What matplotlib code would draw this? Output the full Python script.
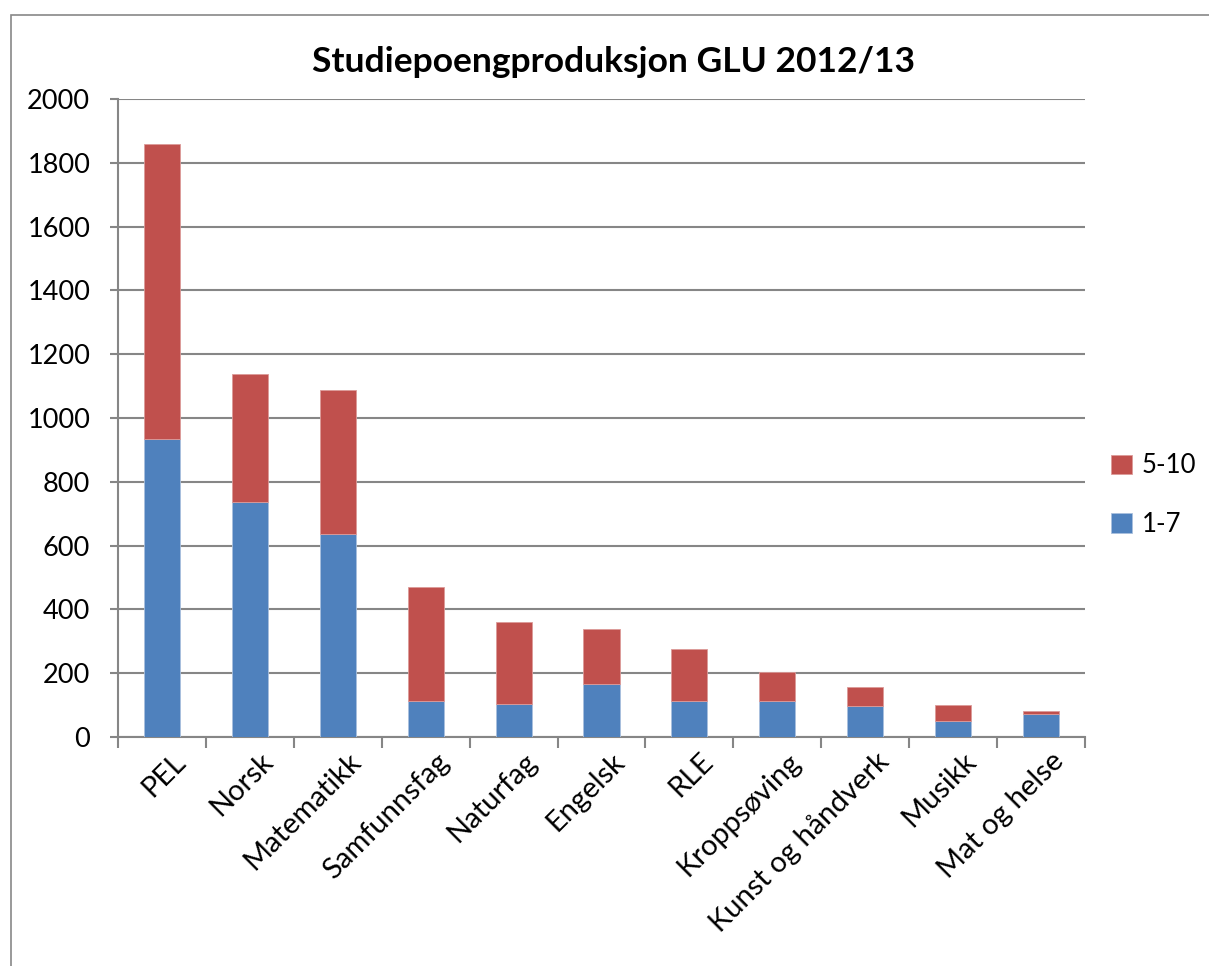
import numpy as np
import matplotlib
matplotlib.use('Agg')
import matplotlib.pyplot as plt
from matplotlib.patches import Rectangle
from matplotlib.transforms import ScaledTranslation

# data
fag = ['PEL', 'Norsk', 'Matematikk', 'Samfunnsfag', 'Naturfag', 'Engelsk', 'RLE',
       'Kroppsøving', 'Kunst og håndverk', 'Musikk', 'Mat og helse']
trinn_1_7 = [933, 737, 635, 112, 105, 165, 114, 114, 98, 49, 71]
trinn_5_10 = [925, 400, 452, 358, 254, 175, 161, 90, 59, 52, 11]

plt.rcParams['font.family'] = ['Lato', 'DejaVu Sans']

fig = plt.figure(figsize=(12.09, 9.66), dpi=100)
# chart area border
fig.patches.append(Rectangle((11/1209, -0.1), 1.2, 1 - 15/966 + 0.1, transform=fig.transFigure,
                             fill=False, edgecolor='#888888', linewidth=1.2))

ax = fig.add_axes([118/1209, 1 - 737/966, (1085-118)/1209, (737-99)/966])
x = np.arange(len(fag))
blue = '#4f81bd'
red = '#c0504d'
ax.bar(x, trinn_1_7, width=0.41, color=blue, label='1-7', zorder=3,
       edgecolor='#a9c0de', linewidth=0.6)
ax.bar(x, trinn_5_10, width=0.41, bottom=trinn_1_7, color=red, label='5-10', zorder=3,
       edgecolor='#dc9a98', linewidth=0.6)

ax.set_xlim(-0.5, len(fag) - 0.5)
ax.set_ylim(0, 2000)
ax.set_yticks(range(0, 2001, 200))
ax.tick_params(axis='y', labelsize=19.5, length=6, width=1.5, color='#868686', pad=14)
ax.yaxis.grid(True, color='#868686', linewidth=1.5)
ax.set_axisbelow(True)

ax.set_xticks(x)
ax.set_xticklabels(fag, rotation=45, ha='right', rotation_mode='anchor', fontsize=21)
ax.set_xticks(np.arange(-0.5, len(fag), 1), minor=True)
ax.tick_params(axis='x', which='major', length=0, pad=8)
ax.tick_params(axis='x', which='minor', length=8, width=1.5, color='#868686')
for lab in ax.get_xticklabels():
    lab.set_transform(lab.get_transform() + ScaledTranslation(0.1, 0, fig.dpi_scale_trans))

for s in ['top', 'right']:
    ax.spines[s].set_visible(False)
for s in ['left', 'bottom']:
    ax.spines[s].set_color('#868686')
    ax.spines[s].set_linewidth(1.5)

fig.text(614/1209, 1 - 62/966, 'Studiepoengproduksjon GLU 2012/13', ha='center', va='center',
         fontsize=25.5, fontweight='bold')

h, l = ax.get_legend_handles_labels()
fig.legend(h[::-1], l[::-1], loc='center left', bbox_to_anchor=(1088/1209, 1 - 495/966),
           frameon=False, fontsize=18.5, handlelength=0.8, handleheight=0.8,
           handletextpad=0.4, labelspacing=1.3)

fig.savefig('out.png', dpi=100)
